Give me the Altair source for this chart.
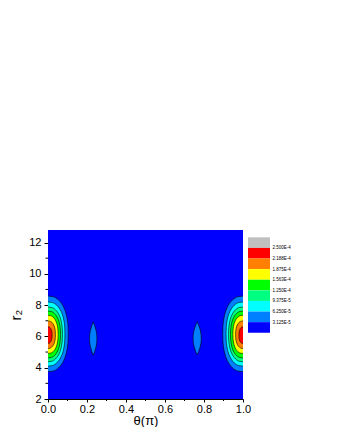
import json
import altair as alt
import pandas as pd

# ---------------- data ----------------
THETA_DOMAIN = [0.0, 1.0]
R_DOMAIN = [2.0, 12.8]
X_MAJOR = [0.0, 0.2, 0.4, 0.6, 0.8, 1.0]
X_MINOR = [0.1, 0.3, 0.5, 0.7, 0.9]
Y_MAJOR = [2, 4, 6, 8, 10, 12]
Y_MINOR = [3, 5, 7, 9, 11]

LEGEND_LABELS = ["2.500E-4", "2.188E-4", "1.875E-4", "1.563E-4",
                 "1.250E-4", "9.375E-5", "6.250E-5", "3.125E-5"]
# legend bands, top -> bottom
BAND_COLORS = ["#C0C0C0", "#FF0000", "#FF8000", "#FFFF00", "#00FF00",
               "#00FF80", "#00FFFF", "#0080FF", "#0000FF"]
BACKGROUND_COLOR = "#0000FF"
# filled contour levels, outermost -> innermost
LEVEL_COLORS = ["#0080FF", "#00FFFF", "#00FF80", "#00FF00",
                "#FFFF00", "#FF8000", "#FF0000"]

# edge lobes (at theta = 0 and theta = 1), per level
LOBE_CENTER_R = [6.16, 6.15, 6.13, 6.12, 6.13, 6.11, 6.08]
LOBE_HALF_R = [2.42, 2.05, 1.75, 1.50, 1.22, 0.88, 0.53]
LOBE_HALF_THETA = [0.104, 0.087, 0.074, 0.064, 0.052, 0.038, 0.021]
# shape of a lobe outline (fraction of half-width along the half-height)
PROFILE_U = [-1, -0.98, -0.95, -0.9, -0.8, -0.7, -0.4, -0.2, 0,
             0.2, 0.4, 0.7, 0.8, 0.9, 0.95, 0.98, 1]
PROFILE_W = [0, 0.26, 0.385, 0.51, 0.672, 0.777, 0.945, 0.989, 1,
             0.989, 0.945, 0.777, 0.672, 0.51, 0.385, 0.26, 0]

# small lens-shaped islands of the lowest level
BLOB_CENTER_THETA = [0.232, 0.765]
BLOB_CENTER_R = [5.86, 5.88]
BLOB_HALF_R = [1.06, 1.06]
BLOB_HALF_THETA = [0.019, 0.021]
LENS_U = [-1, -0.8, -0.5, -0.25, 0, 0.25, 0.5, 0.8, 1]
LENS_W = [0, 0.36, 0.75, 0.94, 1, 0.94, 0.75, 0.36, 0]

EDGE = 0.01  # lobes run slightly past the frame, clipped
W, H = 195, 169
FONT = "Liberation Sans"

# ---------------- build tables ----------------
rows = []
for k in range(len(LEVEL_COLORS)):
    for side in ("L", "R"):
        for u, f in zip(PROFILE_U, PROFILE_W):
            r = LOBE_CENTER_R[k] + LOBE_HALF_R[k] * u
            w = LOBE_HALF_THETA[k] * f
            if side == "L":
                a, b = THETA_DOMAIN[0] - EDGE, THETA_DOMAIN[0] + w
            else:
                a, b = THETA_DOMAIN[1] - w, THETA_DOMAIN[1] + EDGE
            rows.append(dict(level=k, part=f"{k}{side}", ry=r, tx=a, tx2=b))
for j in range(len(BLOB_CENTER_THETA)):
    c = BLOB_CENTER_THETA[j]
    for u, f in zip(LENS_U, LENS_W):
        rows.append(dict(level=0, part=f"blob{j}",
                         ry=BLOB_CENTER_R[j] + BLOB_HALF_R[j] * u,
                         tx=c - BLOB_HALF_THETA[j] * f,
                         tx2=c + BLOB_HALF_THETA[j] * f))
df = pd.DataFrame(rows)

bg_df = pd.DataFrame({"tx": [THETA_DOMAIN[0]], "tx2": [THETA_DOMAIN[1]],
                      "ry": [R_DOMAIN[0]], "ry2": [R_DOMAIN[1]]})

x_scale = alt.Scale(domain=THETA_DOMAIN, nice=False, zero=False)
y_scale = alt.Scale(domain=R_DOMAIN, nice=False, zero=False)

x_axis = alt.Axis(values=X_MAJOR, format=".1f", title="θ(π)", grid=False,
                  tickSize=3, labelPadding=1, titlePadding=0,
                  labelFontSize=11, titleFontSize=13, labelFlush=False,
                  labelOverlap=False)
y_axis = alt.Axis(values=Y_MAJOR, format="d", title="r₂", grid=False,
                  tickSize=4, labelPadding=3, titlePadding=5,
                  labelFontSize=11, titleFontSize=15, labelOverlap=False)

bg = alt.Chart(bg_df).mark_rect(color=BACKGROUND_COLOR).encode(
    x=alt.X("tx:Q", scale=x_scale, axis=x_axis),
    x2="tx2:Q",
    y=alt.Y("ry:Q", scale=y_scale, axis=y_axis),
    y2="ry2:Q",
)

area_layers = [
    alt.Chart(df).transform_filter(alt.datum.level == k).mark_area(
        orient="horizontal", interpolate="monotone", fill=LEVEL_COLORS[k],
        stroke="black", strokeWidth=0.6, clip=True
    ).encode(
        y=alt.Y("ry:Q", scale=y_scale, axis=y_axis),
        x=alt.X("tx:Q", scale=x_scale, stack=False, axis=x_axis),
        x2="tx2:Q",
        detail="part:N",
    )
    for k in range(len(LEVEL_COLORS))
]

y_minor = alt.Chart(pd.DataFrame({"ry": Y_MINOR})).mark_rule(
    color="black", strokeWidth=1).encode(
    y=alt.Y("ry:Q", scale=y_scale, axis=y_axis), x=alt.value(-2.5), x2=alt.value(0))
x_minor = alt.Chart(pd.DataFrame({"tx": X_MINOR})).mark_rule(
    color="black", strokeWidth=1).encode(
    x=alt.X("tx:Q", scale=x_scale, axis=x_axis), y=alt.value(H), y2=alt.value(H + 2))

main = alt.layer(bg, *area_layers, y_minor, x_minor).properties(width=W, height=H)

# ---------------- legend ----------------
n = len(BAND_COLORS)
leg_df = pd.DataFrame({"b0": list(range(n)), "b1": list(range(1, n + 1)),
                       "c": BAND_COLORS, "lx0": [0] * n, "lx1": [1] * n})
label_expr = json.dumps(LEGEND_LABELS) + "[datum.value - 1]"
legend = alt.Chart(leg_df).mark_rect().encode(
    x=alt.X("lx0:Q", scale=alt.Scale(domain=[0, 1], nice=False), axis=None),
    x2="lx1:Q",
    y=alt.Y("b0:Q",
            scale=alt.Scale(domain=[-0.69, 15.25], reverse=True, nice=False, zero=False),
            axis=alt.Axis(orient="right", values=list(range(1, n)), labelExpr=label_expr,
                          ticks=False, domain=False, grid=False, labelFontSize=4.5,
                          labelPadding=2, title=None, labelOverlap=False)),
    y2="b1:Q",
    color=alt.Color("c:N", scale=None),
).properties(width=22, height=H)

chart = alt.hconcat(main, legend, spacing=5, bounds="flush").properties(
    padding={"left": 0, "top": 222, "right": 0, "bottom": 0}
).configure_view(stroke=None).configure_axis(
    labelFont=FONT, titleFont=FONT, labelColor="black", titleColor="black",
    domainColor="black", tickColor="black", titleFontWeight="normal",
    labelOverlap=False,
)

chart.save("out.html", embed_options={"renderer": "svg", "actions": False})
